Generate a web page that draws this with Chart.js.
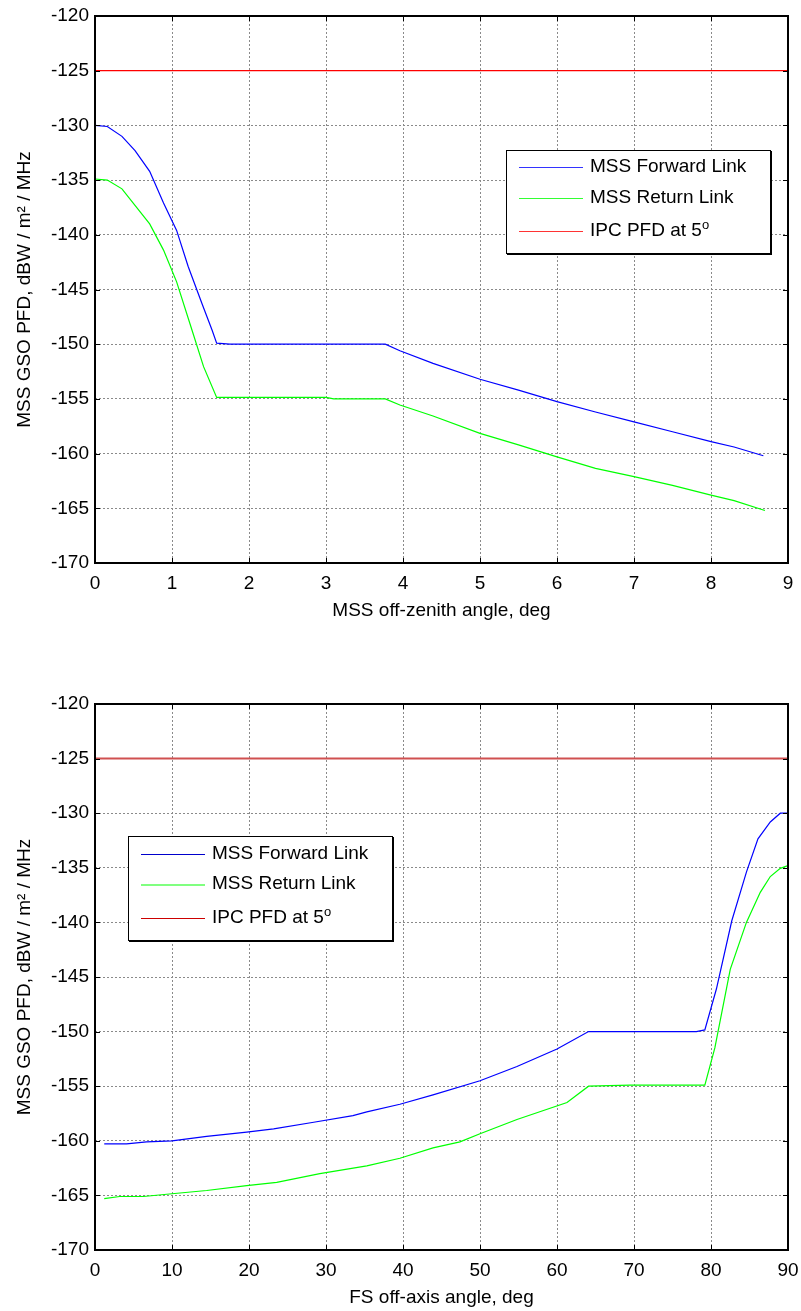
<!DOCTYPE html>
<html>
<head>
<meta charset="utf-8">
<script src="https://cdn.jsdelivr.net/npm/chart.js@4.4.1/dist/chart.umd.min.js"></script>
<style>
  body { margin: 0; background: #fff; font-family: "Liberation Sans", Arial, sans-serif; }
  .painel { position: relative; width: 801px; }
  .legenda { position: absolute; background: #fff; border: 1px solid #000; box-shadow: 1px 1px 0 #000; font-size: 19px; color: #000; }
  .item { position: absolute; left: 0; white-space: nowrap; }
  .traco { position: absolute; left: 12px; width: 64px; top: 0; height: 1px; }
  .rotulo { position: absolute; left: 83px; top: -12px; }
  sup { font-size: 13px; line-height: 0; }
</style>
</head>
<body>

<div class="painel" style="height:655px">
  <canvas id="graficoTopo" width="801" height="655"></canvas>
  <div class="legenda" style="left:506px; top:150px; width:263px; height:102px">
    <div class="item" style="top:16px"><div class="traco" style="background:#3333ff"></div><div class="rotulo">MSS Forward Link</div></div>
    <div class="item" style="top:47px"><div class="traco" style="background:#33ff33"></div><div class="rotulo">MSS Return Link</div></div>
    <div class="item" style="top:80px"><div class="traco" style="background:#ff3333"></div><div class="rotulo">IPC PFD at 5<sup>o</sup></div></div>
  </div>
</div>

<div class="painel" style="height:656px">
  <canvas id="graficoBase" width="801" height="656"></canvas>
  <div class="legenda" style="left:128px; top:181px; width:263px; height:103px">
    <div class="item" style="top:17px"><div class="traco" style="background:#0000cc"></div><div class="rotulo">MSS Forward Link</div></div>
    <div class="item" style="top:47px"><div class="traco" style="background:#80ff80; height:2px"></div><div class="rotulo">MSS Return Link</div></div>
    <div class="item" style="top:81px"><div class="traco" style="background:#cc0000"></div><div class="rotulo">IPC PFD at 5<sup>o</sup></div></div>
  </div>
</div>

<script>
// --- dados: grafico de cima (angulo fora do zenite, graus) ---
let fwdTopoX = [0, 0.16, 0.35, 0.52, 0.71, 0.89, 1.06, 1.21, 1.39, 1.52, 1.58, 1.75, 3.77, 3.96, 4.39, 5.0, 5.5, 6.0, 6.5, 7.0, 7.5, 8.0, 8.3, 8.68];
let fwdTopoY = [-130, -130.1, -131.0, -132.3, -134.2, -137.1, -139.6, -142.9, -146.3, -148.7, -149.9, -150, -150, -150.6, -151.75, -153.2, -154.2, -155.25, -156.2, -157.1, -158.0, -158.9, -159.4, -160.2];
let retTopoX = [0, 0.16, 0.35, 0.71, 0.89, 1.06, 1.25, 1.41, 1.58, 3.0, 3.1, 3.77, 3.96, 4.39, 5.0, 5.5, 6.0, 6.5, 7.0, 7.5, 8.0, 8.3, 8.7];
let retTopoY = [-134.9, -135.0, -135.8, -139.0, -141.4, -144.3, -148.5, -152.05, -154.86, -154.86, -155, -155, -155.56, -156.56, -158.15, -159.2, -160.3, -161.35, -162.1, -162.9, -163.8, -164.3, -165.2];
let ipcTopoX = [0, 9];
let ipcTopoY = [-125, -125];

// --- dados: grafico de baixo (angulo fora do eixo FS, graus) ---
let fwdBaseX = [1.2, 4.1, 6.7, 10.0, 14.5, 19.7, 23.2, 28.4, 33.5, 35.3, 39.6, 43.9, 50.0, 54.8, 60.0, 64.1, 78.1, 79.2, 80.7, 82.7, 84.6, 86.1, 87.7, 89.0, 90];
let fwdBaseY = [-160.28, -160.28, -160.1, -160, -159.6, -159.2, -158.9, -158.3, -157.7, -157.35, -156.65, -155.8, -154.5, -153.2, -151.6, -150, -150, -149.85, -146.1, -139.85, -135.4, -132.35, -130.8, -130.0, -130.0];
let retBaseX = [1.2, 3.2, 6.3, 10.0, 14.5, 19.7, 23.6, 29.2, 35.3, 39.6, 43.9, 47.4, 50.0, 54.8, 61.3, 64.1, 69.5, 79.2, 80.5, 82.5, 84.6, 86.4, 87.7, 89.0, 90];
let retBaseY = [-165.3, -165.1, -165.1, -164.85, -164.55, -164.1, -163.8, -163.0, -162.3, -161.6, -160.65, -160.1, -159.35, -158.05, -156.5, -155.0, -154.9, -154.9, -151.5, -144.3, -140.0, -137.25, -135.8, -135.05, -134.8];
let ipcBaseX = [0, 90];
let ipcBaseY = [-125, -125];

let eixoYMin = -170;
let eixoYMax = -120;
let tituloY = "MSS GSO PFD, dBW / m\u00B2 / MHz";

const fonte = { family: "'Liberation Sans', Arial, sans-serif", size: 19 };

function pontos(xs, ys) {
    return xs.map((x, i) => ({ x: x, y: ys[i] }));
}

// moldura estilo MATLAB com marcas de escala para dentro
const molduraPlugin = {
    id: 'moldura',
    afterDatasetsDraw(chart) {
        const { ctx, chartArea: a, scales } = chart;
        ctx.save();
        ctx.strokeStyle = '#000';
        ctx.lineWidth = 1;
        const m = 5;
        scales.x.ticks.forEach(t => {
            const px = Math.round(scales.x.getPixelForValue(t.value)) + 0.5;
            ctx.beginPath();
            ctx.moveTo(px, a.bottom); ctx.lineTo(px, a.bottom - m);
            ctx.moveTo(px, a.top); ctx.lineTo(px, a.top + m);
            ctx.stroke();
        });
        scales.y.ticks.forEach(t => {
            const py = Math.round(scales.y.getPixelForValue(t.value)) + 0.5;
            ctx.beginPath();
            ctx.moveTo(a.left, py); ctx.lineTo(a.left + m, py);
            ctx.moveTo(a.right, py); ctx.lineTo(a.right - m, py);
            ctx.stroke();
        });
        ctx.lineWidth = 2;
        ctx.strokeRect(a.left, a.top, a.right - a.left, a.bottom - a.top);
        ctx.restore();
    }
};

function criarGrafico(id, cfg) {
    const ctx = document.getElementById(id).getContext('2d');
    return new Chart(ctx, {
        type: 'line',
        data: {
            datasets: [
                { data: pontos(cfg.fwdX, cfg.fwdY), borderColor: '#0000ff', borderWidth: 1.2 },
                { data: pontos(cfg.retX, cfg.retY), borderColor: '#00ff00', borderWidth: 1.2 },
                { data: pontos(cfg.ipcX, cfg.ipcY), borderColor: cfg.corIpc, borderWidth: cfg.larguraIpc }
            ]
        },
        options: {
            responsive: false,
            animation: false,
            devicePixelRatio: 1,
            layout: { padding: { top: cfg.topo, right: 13, left: 0, bottom: 0 } },
            elements: { point: { radius: 0 }, line: { tension: 0 } },
            plugins: { legend: { display: false }, tooltip: { enabled: false } },
            scales: {
                x: {
                    type: 'linear',
                    min: cfg.xMin, max: cfg.xMax,
                    afterFit: s => { s.height = cfg.alturaX; s.paddingLeft = 0; s.paddingRight = 0; },
                    ticks: { stepSize: cfg.passoX, autoSkip: false, maxRotation: 0, color: '#000', font: fonte, padding: 9 },
                    grid: { color: '#8a8a8a', lineWidth: 1, drawTicks: false },
                    border: { display: false, dash: [2, 2] },
                    title: { display: true, text: cfg.tituloX, color: '#000', font: fonte, padding: { top: 0, bottom: cfg.folgaTitulo } }
                },
                y: {
                    min: eixoYMin, max: eixoYMax,
                    afterFit: s => { s.width = 95; s.paddingTop = 0; s.paddingBottom = 0; },
                    ticks: { stepSize: 5, autoSkip: false, color: '#000', font: fonte, padding: 6 },
                    grid: { color: '#8a8a8a', lineWidth: 1, drawTicks: false },
                    border: { display: false, dash: [2, 2] },
                    title: { display: true, text: tituloY, color: '#000', font: fonte, padding: { top: 13, bottom: 0 } }
                }
            }
        },
        plugins: [molduraPlugin]
    });
}

criarGrafico('graficoTopo', {
    fwdX: fwdTopoX, fwdY: fwdTopoY, retX: retTopoX, retY: retTopoY, ipcX: ipcTopoX, ipcY: ipcTopoY,
    corIpc: '#ff0000', larguraIpc: 1.2,
    xMin: 0, xMax: 9, passoX: 1,
    tituloX: 'MSS off-zenith angle, deg',
    topo: 16, alturaX: 92, folgaTitulo: 33
});

criarGrafico('graficoBase', {
    fwdX: fwdBaseX, fwdY: fwdBaseY, retX: retBaseX, retY: retBaseY, ipcX: ipcBaseX, ipcY: ipcBaseY,
    corIpc: '#d05050', larguraIpc: 2,
    xMin: 0, xMax: 90, passoX: 10,
    tituloX: 'FS off-axis angle, deg',
    topo: 49, alturaX: 61, folgaTitulo: 2
});
</script>
</body>
</html>
